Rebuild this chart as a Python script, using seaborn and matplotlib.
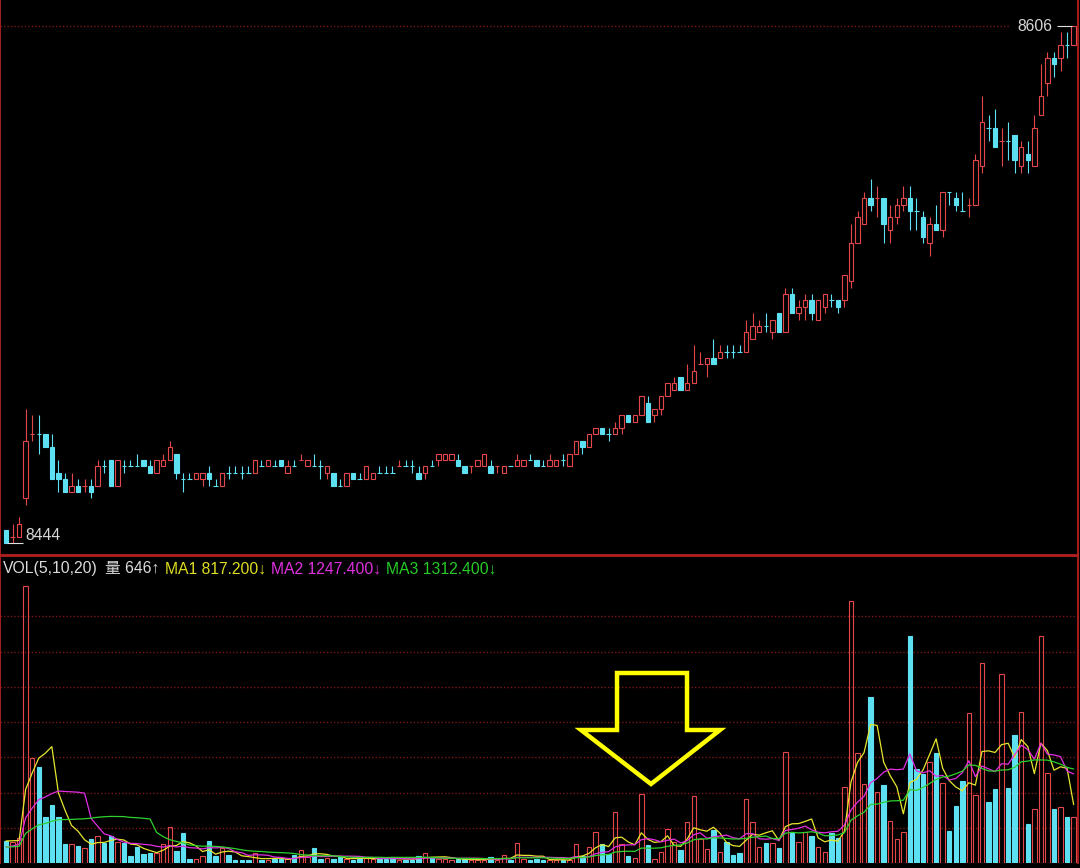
import numpy as np
import pandas as pd
import matplotlib
matplotlib.use('Agg')
import matplotlib.pyplot as plt
from matplotlib.patches import Polygon
import seaborn as sns

# daily candles (price units)
opens = [8448, 8446, 8446, 8458, 8478, 8478, 8478, 8474, 8466, 8464,
         8460, 8462, 8462, 8462, 8462, 8468, 8470, 8462, 8468, 8468,
         8468, 8470, 8468, 8466, 8468, 8470, 8472, 8464, 8464, 8464,
         8464, 8466, 8462, 8462, 8466, 8466, 8466, 8466, 8466, 8468,
         8468, 8468, 8470, 8466, 8468, 8470, 8468, 8468, 8468, 8466,
         8466, 8462, 8462, 8466, 8464, 8464, 8464, 8466, 8466, 8466,
         8468, 8468, 8468, 8466, 8466, 8468, 8470, 8470, 8470, 8470,
         8468, 8468, 8468, 8468, 8468, 8468, 8466, 8468, 8468, 8468,
         8470, 8470, 8468, 8468, 8468, 8470, 8468, 8472, 8476, 8474,
         8478, 8480, 8478, 8478, 8480, 8484, 8482, 8484, 8488, 8484,
         8486, 8490, 8492, 8496, 8492, 8494, 8500, 8500, 8502, 8502,
         8504, 8504, 8504, 8504, 8508, 8510, 8512, 8510, 8516, 8510,
         8522, 8516, 8518, 8520, 8514, 8518, 8520, 8520, 8520, 8526,
         8538, 8544, 8552, 8552, 8552, 8542, 8546, 8550, 8552, 8548,
         8546, 8538, 8544, 8542, 8554, 8552, 8548, 8550, 8550, 8562,
         8574, 8574, 8570, 8570, 8572, 8562, 8566, 8562, 8578, 8588,
         8596, 8596, 8600, 8600]
highs = [8448, 8450, 8452, 8486, 8484, 8484, 8478, 8478, 8470, 8466,
         8466, 8464, 8464, 8464, 8470, 8470, 8470, 8470, 8470, 8470,
         8472, 8470, 8470, 8470, 8472, 8476, 8472, 8466, 8466, 8466,
         8466, 8468, 8464, 8466, 8468, 8468, 8468, 8468, 8470, 8470,
         8470, 8470, 8470, 8470, 8470, 8472, 8470, 8472, 8470, 8468,
         8466, 8464, 8466, 8466, 8466, 8468, 8466, 8468, 8468, 8468,
         8470, 8470, 8470, 8468, 8468, 8470, 8472, 8472, 8472, 8472,
         8468, 8468, 8470, 8472, 8470, 8468, 8468, 8468, 8472, 8470,
         8472, 8470, 8470, 8472, 8470, 8472, 8472, 8476, 8476, 8478,
         8480, 8480, 8480, 8482, 8484, 8484, 8484, 8490, 8490, 8486,
         8490, 8494, 8496, 8496, 8500, 8506, 8504, 8502, 8508, 8506,
         8506, 8506, 8506, 8514, 8516, 8514, 8516, 8514, 8516, 8524,
         8524, 8520, 8522, 8522, 8520, 8522, 8522, 8520, 8528, 8544,
         8548, 8554, 8558, 8556, 8552, 8550, 8552, 8556, 8556, 8552,
         8548, 8546, 8550, 8554, 8554, 8554, 8554, 8552, 8566, 8584,
         8578, 8580, 8574, 8576, 8572, 8570, 8570, 8578, 8594, 8598,
         8598, 8604, 8604, 8606]
lows = [8444, 8444, 8446, 8456, 8476, 8472, 8474, 8464, 8460, 8460,
        8460, 8460, 8460, 8458, 8462, 8466, 8462, 8462, 8466, 8468,
        8468, 8468, 8466, 8466, 8468, 8470, 8464, 8460, 8464, 8464,
        8462, 8462, 8462, 8462, 8464, 8466, 8464, 8466, 8466, 8468,
        8468, 8468, 8468, 8466, 8468, 8470, 8468, 8468, 8464, 8464,
        8462, 8462, 8462, 8464, 8464, 8464, 8464, 8466, 8466, 8466,
        8468, 8468, 8466, 8464, 8464, 8468, 8468, 8470, 8470, 8468,
        8466, 8466, 8468, 8468, 8466, 8466, 8466, 8468, 8468, 8468,
        8470, 8468, 8468, 8468, 8468, 8468, 8468, 8472, 8472, 8474,
        8478, 8478, 8476, 8478, 8478, 8482, 8482, 8484, 8482, 8482,
        8484, 8490, 8492, 8492, 8492, 8494, 8500, 8496, 8500, 8502,
        8502, 8502, 8504, 8504, 8508, 8510, 8510, 8508, 8510, 8510,
        8516, 8514, 8514, 8514, 8514, 8516, 8518, 8516, 8518, 8524,
        8538, 8544, 8548, 8546, 8538, 8538, 8544, 8548, 8542, 8542,
        8538, 8534, 8542, 8540, 8550, 8548, 8548, 8546, 8550, 8560,
        8570, 8568, 8562, 8564, 8560, 8560, 8560, 8562, 8578, 8584,
        8590, 8592, 8596, 8600]
closes = [8444, 8446, 8450, 8476, 8478, 8478, 8474, 8464, 8464, 8460,
          8462, 8460, 8462, 8460, 8468, 8468, 8462, 8470, 8468, 8468,
          8468, 8468, 8466, 8470, 8470, 8474, 8466, 8464, 8464, 8466,
          8466, 8464, 8462, 8466, 8466, 8466, 8466, 8466, 8470, 8468,
          8470, 8468, 8468, 8468, 8468, 8470, 8470, 8468, 8468, 8468,
          8462, 8462, 8466, 8464, 8464, 8468, 8466, 8466, 8466, 8466,
          8468, 8468, 8468, 8464, 8468, 8468, 8472, 8472, 8472, 8468,
          8466, 8468, 8470, 8472, 8466, 8468, 8468, 8468, 8470, 8470,
          8470, 8468, 8468, 8470, 8470, 8470, 8472, 8476, 8474, 8478,
          8480, 8478, 8478, 8480, 8484, 8482, 8484, 8490, 8482, 8486,
          8490, 8494, 8494, 8492, 8494, 8498, 8500, 8502, 8500, 8504,
          8504, 8504, 8504, 8510, 8512, 8512, 8512, 8514, 8510, 8522,
          8516, 8518, 8520, 8516, 8520, 8522, 8520, 8518, 8528, 8538,
          8546, 8552, 8550, 8552, 8544, 8546, 8550, 8552, 8548, 8548,
          8540, 8544, 8542, 8554, 8554, 8550, 8548, 8550, 8564, 8576,
          8574, 8568, 8570, 8570, 8564, 8568, 8564, 8574, 8584, 8596,
          8594, 8600, 8600, 8606]
volumes = [308, 294, 350, 3878, 1470, 1344, 644, 812, 644, 266,
           266, 238, 210, 336, 378, 280, 378, 294, 280, 98,
           224, 126, 140, 140, 266, 504, 168, 420, 56, 56,
           98, 308, 98, 210, 112, 42, 42, 42, 140, 42,
           42, 56, 56, 56, 112, 182, 84, 210, 56, 70,
           56, 84, 56, 42, 84, 70, 56, 56, 56, 84,
           42, 42, 42, 98, 140, 84, 56, 56, 42, 56,
           56, 42, 42, 42, 84, 42, 112, 42, 280, 56,
           42, 56, 42, 42, 42, 42, 42, 266, 98, 224,
           434, 266, 126, 714, 266, 98, 70, 966, 252, 56,
           154, 476, 294, 182, 574, 938, 336, 196, 462, 154,
           294, 112, 140, 896, 574, 224, 280, 280, 210, 1554,
           420, 294, 434, 378, 224, 154, 420, 350, 1064, 3668,
           1540, 1106, 2324, 994, 1092, 588, 336, 434, 3178, 1316,
           1246, 1414, 1540, 1120, 448, 800, 1150, 2100, 952, 2800,
           850, 1034, 2650, 1050, 1792, 2114, 546, 756, 3180, 1260,
           756, 784, 640, 646]
# sessions just before the visible window (only feed the moving averages)
vol_before = [240, 210, 260, 190, 230, 250, 200, 220, 230, 210,
              150, 120, 160, 130, 140, 280, 330, 300, 322]
ma_windows = [5, 10, 20]
ma_colors = ['#e6e62e', '#e22ee2', '#2ed12e']
header = [('VOL(5,10,20)', '#dcdcdc', 3), ('量 646↑', '#dcdcdc', 105),
          ('MA1 817.200↓', '#dede22', 165), ('MA2 1247.400↓', '#e030e0', 271),
          ('MA3 1312.400↓', '#26cc26', 386)]

UP = '#e4474a'
DOWN = '#5ce0f2'
FRAME = '#b3201e'
GRID = '#7c1616'


def main():
    sns.set_style('dark', {'axes.facecolor': 'black', 'figure.facecolor': 'black'})
    plt.rcParams['font.family'] = ['Liberation Sans', 'Noto Sans CJK SC', 'DejaVu Sans']

    df = pd.DataFrame({'open': opens, 'high': highs, 'low': lows,
                       'close': closes, 'volume': volumes})
    df['x'] = np.arange(len(df))
    prev_close = df['close'].shift(1)
    df['up'] = (df['close'] > df['open']) | ((df['close'] == df['open']) & (df['close'] > prev_close))
    df['body_lo'] = df[['open', 'close']].min(axis=1)
    df['body_hi'] = df[['open', 'close']].max(axis=1)

    W, H = 1080, 868
    fig = plt.figure(figsize=(W / 100, H / 100), dpi=100)
    fig.patch.set_facecolor('black')
    ax_p = fig.add_axes([0, 1 - 555 / H, 1078 / W, 555 / H])
    ax_v = fig.add_axes([0, 1 - 863 / H, 1078 / W, (863 - 556) / H])

    step = 6.55  # pixels between candles
    xlim = (-6 / step, (1078 - 6) / step)
    w = 0.68

    # price panel
    for up, color in [(True, UP), (False, DOWN)]:
        d = df[df['up'] == up]
        ax_p.vlines(d['x'], d['low'], d['body_lo'], color=color, lw=0.8)
        ax_p.vlines(d['x'], d['body_hi'], d['high'], color=color, lw=0.8)
        body = d[d['body_hi'] > d['body_lo']]
        ax_p.bar(body['x'], body['body_hi'] - body['body_lo'], bottom=body['body_lo'],
                 width=w, facecolor='none' if up else color, edgecolor=color, linewidth=0.8)
        flat = d[d['body_hi'] == d['body_lo']]
        ax_p.hlines(flat['open'], flat['x'] - w / 2, flat['x'] + w / 2, color=color, lw=0.8)

    px = 3.19  # pixels per price point
    ax_p.set_xlim(*xlim)
    ax_p.set_ylim(8444 - 12 / px, 8606 + 26 / px)

    hi_i = int(df['high'].idxmax())
    lo_i = int(df['low'].idxmin())
    hi_v, lo_v = df['high'].max(), df['low'].min()
    ax_p.hlines(hi_v, xlim[0], (1010 - 6) / step, color=GRID, lw=1, linestyles=(0, (1, 1.5)))
    ax_p.hlines(hi_v, hi_i - 2.6, hi_i - 0.3, color='#e0e0e0', lw=0.8)
    ax_p.text(hi_i - 3.3, hi_v, f'{hi_v:.0f}', color='#d8d8d8', fontsize=11.3,
              ha='right', va='center')
    ax_p.hlines(lo_v, lo_i + 0.1, lo_i + 2.6, color='#e0e0e0', lw=0.8)
    ax_p.text(lo_i + 3.0, lo_v + 2.5, f'{lo_v:.0f}', color='#d8d8d8', fontsize=11.3,
              ha='left', va='center')

    # volume panel
    for up, color in [(True, UP), (False, DOWN)]:
        d = df[df['up'] == up]
        ax_v.bar(d['x'], d['volume'], width=w, facecolor='none' if up else color,
                 edgecolor=color, linewidth=0.8)

    full = pd.Series(vol_before + volumes, dtype=float)
    for n, color in zip(ma_windows, ma_colors):
        ma = full.rolling(n).mean().iloc[len(vol_before):].to_numpy()
        sns.lineplot(x=df['x'].to_numpy(), y=ma, ax=ax_v, color=color, linewidth=0.9)

    vol_top = 3948
    for k in range(1, 8):
        ax_v.axhline(vol_top * k / 8, color=GRID, lw=1, linestyle=(0, (1, 1.5)), zorder=0)
    ax_v.set_xlim(*xlim)
    ax_v.set_ylim(0, vol_top * 307 / 282)

    for ax in (ax_p, ax_v):
        ax.set_xticks([])
        ax.set_yticks([])
        ax.grid(False)
        ax.set_facecolor('black')
        for s in ax.spines.values():
            s.set_color(FRAME)
            s.set_linewidth(1.3)
    ax_p.spines['top'].set_visible(False)
    ax_v.spines['bottom'].set_visible(False)

    for label, color, x0 in header:
        fig.text(x0 / W, 1 - 569 / H, label, color=color, fontsize=11.3, ha='left', va='center')

    # hollow yellow marker arrow
    pts = [(617, 673), (687, 673), (687, 730), (720, 730), (651, 784), (581, 730), (617, 730)]
    arrow = Polygon([(x / W, 1 - y / H) for x, y in pts], closed=True, transform=fig.transFigure,
                    facecolor='none', edgecolor='#ffff00', linewidth=3.2, joinstyle='miter')
    fig.patches.append(arrow)

    fig.savefig('out.png', dpi=100, facecolor='black')
    plt.close(fig)


if __name__ == '__main__':
    main()
